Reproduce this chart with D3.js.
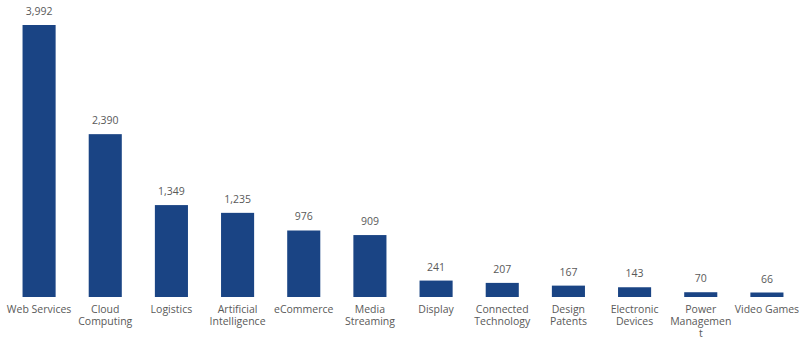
<!DOCTYPE html>
<html><head><meta charset="utf-8">
<script src="https://cdn.jsdelivr.net/npm/d3@7"></script>
<style>body{margin:0;background:#fff;}svg{display:block;font-family:"Open Sans",sans-serif;}</style>
</head><body><svg id="c" width="803" height="342"></svg>
<script>
const categories = ["Web Services","Cloud Computing","Logistics","Artificial Intelligence","eCommerce","Media Streaming","Display","Connected Technology","Design Patents","Electronic Devices","Power Management","Video Games"];
const labelLines = [["Web Services"],["Cloud","Computing"],["Logistics"],["Artificial","Intelligence"],["eCommerce"],["Media","Streaming"],["Display"],["Connected","Technology"],["Design","Patents"],["Electronic","Devices"],["Power","Managemen","t"],["Video Games"]];
const values = [3992,2390,1349,1235,976,909,241,207,167,143,70,66];

const svg = d3.select("#c");
const x = d3.scaleBand().domain(categories).range([6,800]).paddingInner(0.5).paddingOuter(0.25);
const y = d3.scaleLinear().domain([0,3992]).range([297,25]);
const fmt = d3.format(",");

svg.selectAll("rect.bar").data(values).join("rect")
  .attr("class","bar")
  .attr("x",(d,i)=>x(categories[i]))
  .attr("width",x.bandwidth())
  .attr("y",d=>y(d))
  .attr("height",d=>y(0)-y(d))
  .attr("fill","#1a4484");

svg.selectAll("text.val").data(values).join("text")
  .attr("class","val")
  .attr("x",(d,i)=>x(categories[i])+x.bandwidth()/2)
  .attr("y",d=>y(d)-10)
  .attr("text-anchor","middle")
  .attr("font-size",10.5)
  .attr("fill","#595959")
  .text(d=>fmt(d));

const g = svg.selectAll("g.cat").data(categories).join("g").attr("class","cat");
g.each(function(d,i){
  const grp = d3.select(this);
  labelLines[i].forEach((ln,j)=>{
    grp.append("text")
      .attr("x",x(d)+x.bandwidth()/2)
      .attr("y",313+j*12)
      .attr("text-anchor","middle")
      .attr("font-size",10.5)
      .attr("fill","#595959")
      .text(ln);
  });
});
</script></body></html>
